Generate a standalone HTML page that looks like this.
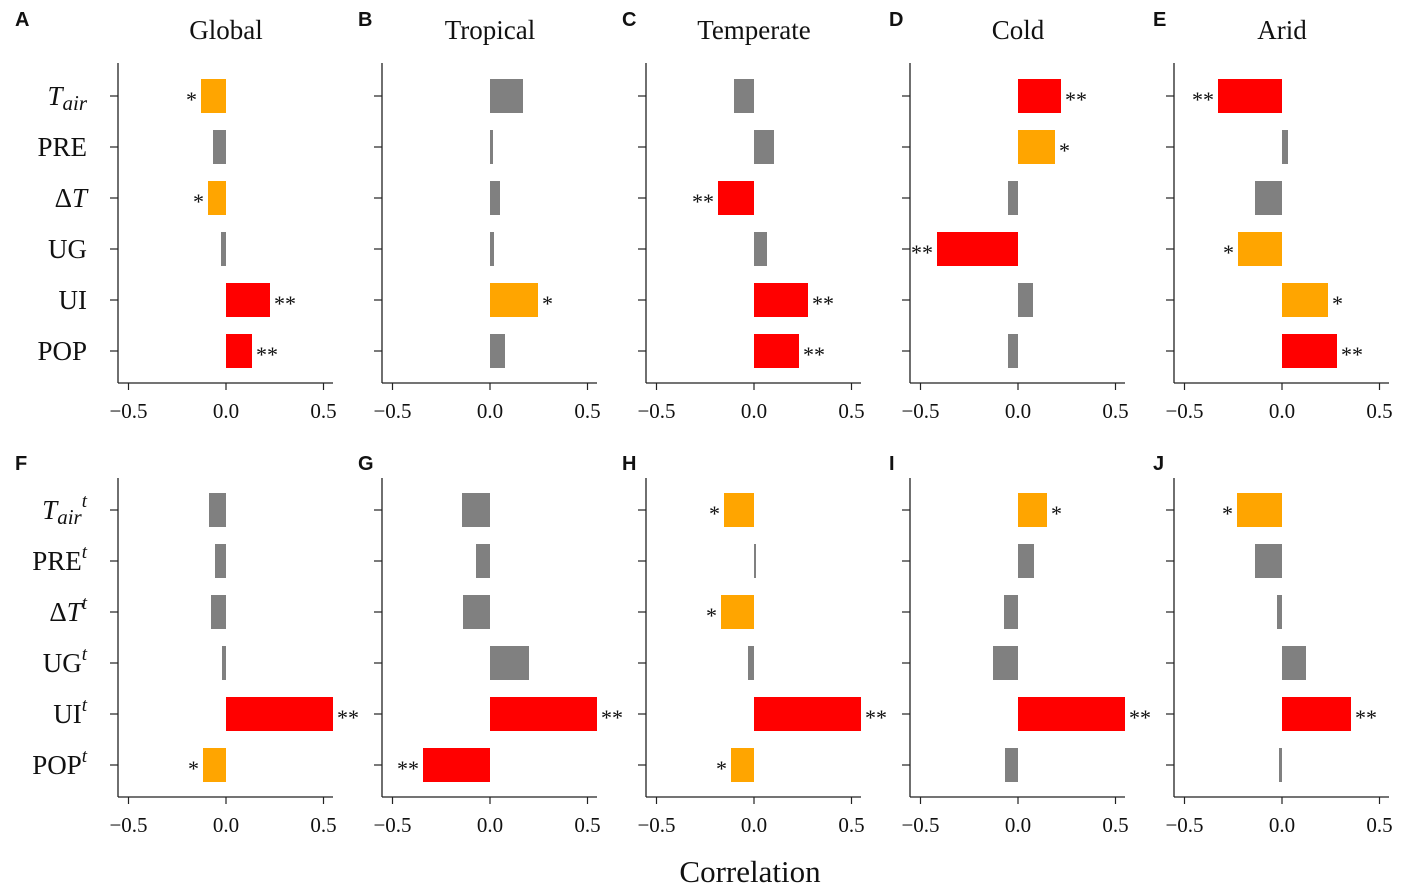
<!DOCTYPE html>
<html><head><meta charset="utf-8"><style>
html,body{margin:0;padding:0;background:#fff;}
svg{display:block;}
text{font-family:"Liberation Serif",serif;fill:#111;}
.pl{font-family:"Liberation Sans",sans-serif;font-weight:bold;font-size:20px;}
</style></head><body>
<svg id="s" width="1409" height="894" xmlns="http://www.w3.org/2000/svg"></svg>
<script>
(function(){
const s=document.getElementById('s');let h='';
const O='#FFA500',R='#FF0000',G='#808080';
const titles=['Global','Tropical','Temperate','Cold','Arid'];
const topData=[
[[201,226,O,'*'],[213,226,G,''],[208,226,O,'*'],[221,226,G,''],[226,270,R,'**'],[226,252,R,'**']],
[[490,523,G,''],[490,493,G,''],[490,500,G,''],[490,494,G,''],[490,538,O,'*'],[490,505,G,'']],
[[734,754,G,''],[754,774,G,''],[718,754,R,'**'],[754,767,G,''],[754,808,R,'**'],[754,799,R,'**']],
[[1018,1061,R,'**'],[1018,1055,O,'*'],[1008,1018,G,''],[937,1018,R,'**'],[1018,1033,G,''],[1008,1018,G,'']],
[[1218,1282,R,'**'],[1282,1288,G,''],[1255,1282,G,''],[1238,1282,O,'*'],[1282,1328,O,'*'],[1282,1337,R,'**']]];
const botData=[
[[209,226,G,''],[215,226,G,''],[211,226,G,''],[222,226,G,''],[226,333,R,'**'],[203,226,O,'*']],
[[462,490,G,''],[476,490,G,''],[463,490,G,''],[490,529,G,''],[490,597,R,'**'],[423,490,R,'**']],
[[724,754,O,'*'],[754,756,G,''],[721,754,O,'*'],[748,754,G,''],[754,861,R,'**'],[731,754,O,'*']],
[[1018,1047,O,'*'],[1018,1034,G,''],[1004,1018,G,''],[993,1018,G,''],[1018,1125,R,'**'],[1005,1018,G,'']],
[[1237,1282,O,'*'],[1255,1282,G,''],[1277,1282,G,''],[1282,1306,G,''],[1282,1351,R,'**'],[1279,1282,G,'']]];
const letters=['ABCDE','FGHIJ'];
const lx=[15,358,622,889,1153];
function panel(p,row,data){
 const off=p*264, z=226+off, sx=118+off, y0=row?478:63, yb=row?797:383, c0=row?510:96;
 h+=`<line x1="${sx}" y1="${y0}" x2="${sx}" y2="${yb}" stroke="#222" stroke-width="1.3"/>`;
 h+=`<line x1="${sx}" y1="${yb}" x2="${sx+215}" y2="${yb}" stroke="#222" stroke-width="1.3"/>`;
 [-0.5,0,0.5].forEach(v=>{const x=z+v*195;h+=`<line x1="${x}" y1="${yb}" x2="${x}" y2="${yb+7}" stroke="#222" stroke-width="1.2"/>`;
  h+=`<text x="${x}" y="${yb+35}" font-size="21" text-anchor="middle">${v==0?'0.0':(v<0?'\u22120.5':'0.5')}</text>`;});
 h+=`<text class="pl" x="${lx[p]}" y="${row?470:26}">${letters[row][p]}</text>`;
 if(!row)h+=`<text x="${z}" y="39" font-size="27" text-anchor="middle">${titles[p]}</text>`;
 data.forEach((b,i)=>{const cy=c0+i*51;
  h+=`<line x1="${sx-8}" y1="${cy}" x2="${sx}" y2="${cy}" stroke="#222" stroke-width="1.2"/>`;
  h+=`<rect x="${b[0]}" y="${cy-17}" width="${b[1]-b[0]}" height="34" fill="${b[2]}"/>`;
  if(b[3]){const left=b[0]<z-0.5&&b[1]<=z+0.5;
   const x=left?b[0]-4:b[1]+4;
   h+=`<text x="${x}" y="${cy+11}" font-size="22" text-anchor="${left?'end':'start'}">${b[3]}</text>`;}
 });
}
for(let p=0;p<5;p++){panel(p,0,topData[p]);panel(p,1,botData[p]);}
const lt=['T','PRE','ΔT','UG','UI','POP'];
function lab(i,row){const cy=(row?510:96)+i*51+9;const x=87;let t=lt[i];
 let inner;
 if(i==0) inner=`<tspan font-style="italic">T</tspan><tspan font-style="italic" font-size="21" dy="5">air</tspan>`+(row?`<tspan font-style="italic" font-size="19" dy="-17">t</tspan>`:'');
 else if(i==2) inner=`Δ<tspan font-style="italic">T</tspan>`+(row?`<tspan font-style="italic" font-size="19" dy="-12">t</tspan>`:'');
 else inner=t+(row?`<tspan font-style="italic" font-size="19" dy="-12">t</tspan>`:'');
 h+=`<text x="${x}" y="${cy}" font-size="27" text-anchor="end">${inner}</text>`;}
for(let i=0;i<6;i++){lab(i,0);lab(i,1);}
h+=`<text x="750" y="882" font-size="31" text-anchor="middle">Correlation</text>`;
s.innerHTML=h;
})();
</script>
</body></html>
